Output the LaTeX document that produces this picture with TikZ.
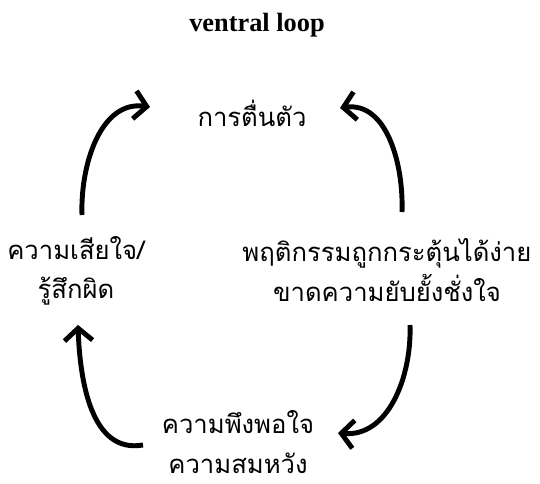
\documentclass[tikz,border=0pt]{standalone}
\usepackage{fontspec}
\setmainfont{Liberation Serif}
\newfontfamily\thaifont[Script=Thai]{Loma}
\usepackage{tikz}
\usetikzlibrary{arrows.meta,positioning}

\begin{document}
\begin{tikzpicture}[-{Straight Barb[length=7pt,width=16pt]},line width=2.8pt,
   thai/.style={font=\thaifont\fontsize{14.6}{22.5}\selectfont, align=center, inner sep=0pt}]
   \useasboundingbox (0,0) rectangle (10.8,-9.68);
   \node[font=\bfseries\fontsize{15}{17}\selectfont] (title) at (5.14,-0.5) {ventral loop};
   \node[thai] (arousal) at (5.04,-2.26) {การตื่นตัว};
   \node[thai] (sad) at (1.52,-5.42) {ความเสียใจ/\\รู้สึกผิด};
   \node[thai] (impulse) at (7.74,-5.4) {พฤติกรรมถูกกระตุ้นได้ง่าย\\ขาดความยับยั้งชั่งใจ};
   \node[thai] (satisfy) at (4.76,-8.84) {ความพึงพอใจ\\ความสมหวัง};
   % loop: sad -> arousal -> impulse -> satisfy -> sad
   \draw ([shift={(0.12,1.12)}]sad.center) to[out=92,in=172] ([shift={(-2.04,0.12)}]arousal.center);
   \draw ([shift={(0.3,1.16)}]impulse.center) to[out=88,in=8] ([shift={(1.76,0.1)}]arousal.center);
   \draw ([shift={(0.46,-1.1)}]impulse.center) to[out=-88,in=-5] ([shift={(2.0,0.18)}]satisfy.center);
   \draw ([shift={(-1.9,-0.06)}]satisfy.center) to[out=190,in=-88] ([shift={(0.04,-1.08)}]sad.center);
\end{tikzpicture}
\end{document}
